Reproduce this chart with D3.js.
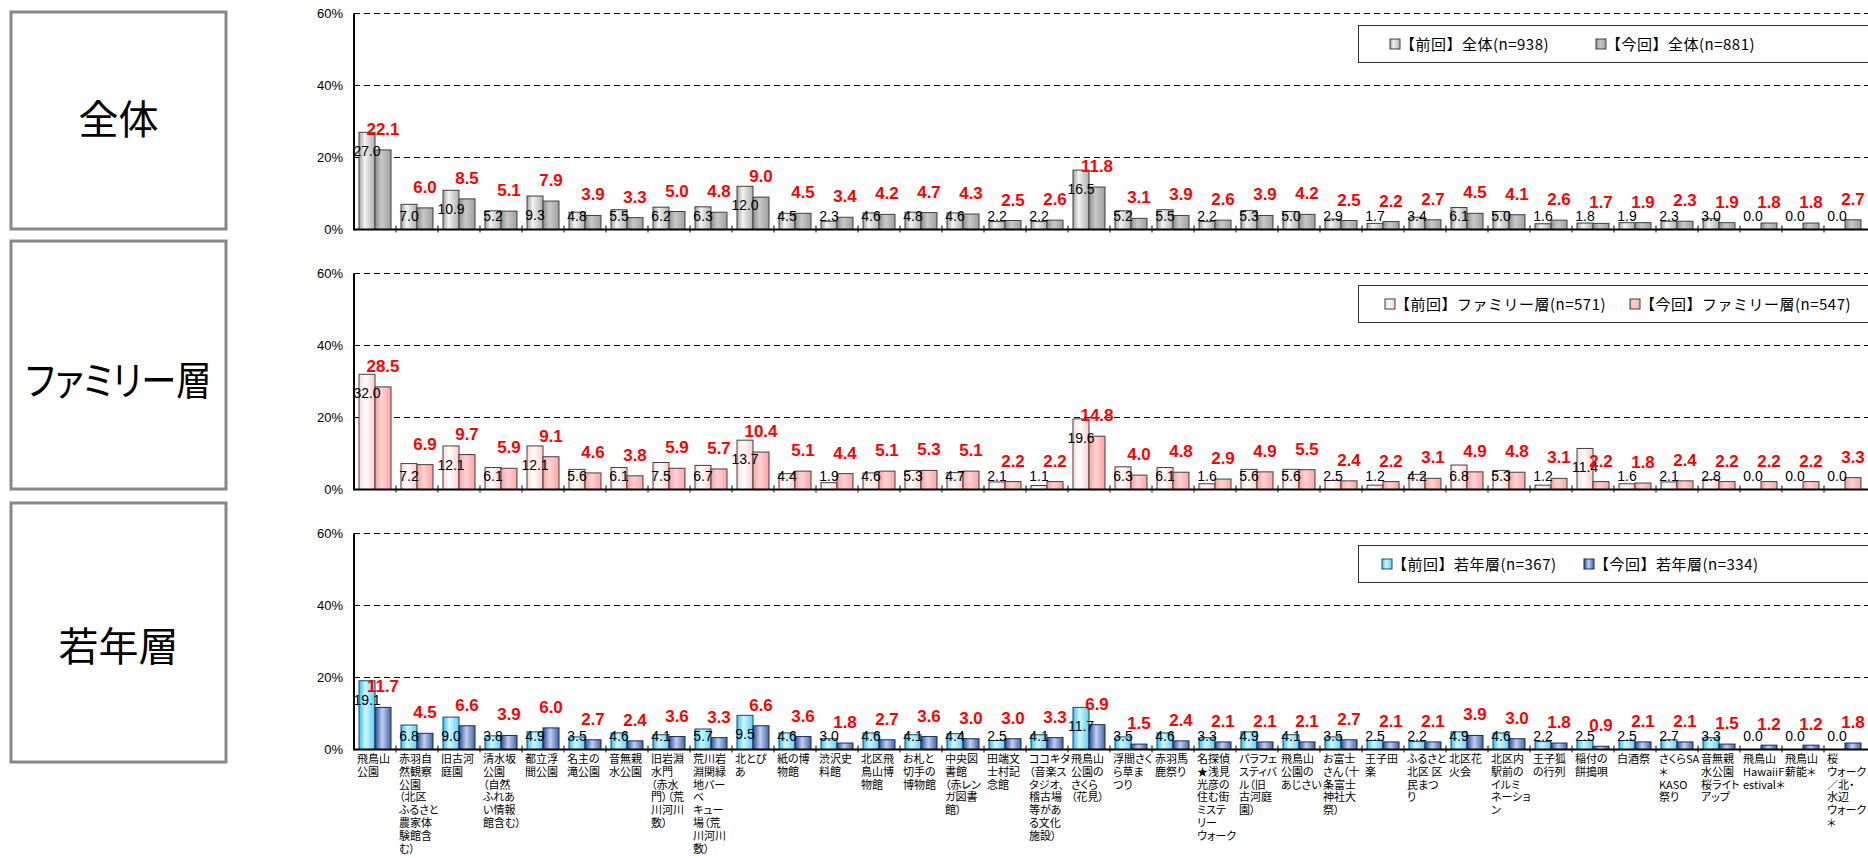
<!DOCTYPE html>
<html><head><meta charset="utf-8">
<script src="https://cdn.jsdelivr.net/npm/d3@7/dist/d3.min.js"></script>
<style>
body{margin:0;background:#fff;}
svg{display:block;}
text{font-family:"Liberation Sans",Arial,sans-serif;}
.jp{font-family:"Noto Sans CJK JP",sans-serif;font-feature-settings:"palt";}
.jpf{font-family:"Noto Sans CJK JP",sans-serif;}
</style></head><body>
<svg id="c" width="1868" height="858"></svg>
<script>
const categories = [
"飛鳥山|公園","赤羽自|然観察|公園|（北区|ふるさと|農家体|験館含|む）","旧古河|庭園",
"清水坂|公園|（自然|ふれあ|い情報|館含む）","都立浮|間公園","名主の|滝公園","音無親|水公園",
"旧岩淵|水門|（赤水|門）（荒|川河川|敷）","荒川岩|淵関緑|地バー|ベ|キュー|場（荒|川河川|敷）",
"北とぴ|あ","紙の博|物館","渋沢史|料館","北区飛|鳥山博|物館","お札と|切手の|博物館",
"中央図|書館|（赤レン|ガ図書|館）","田端文|士村記|念館","ココキタ|（音楽ス|タジオ、|稽古場|等があ|る文化|施設）",
"飛鳥山|公園の|さくら|（花見）","浮間さく|ら草ま|つり","赤羽馬|鹿祭り",
"名探偵|★浅見|光彦の|住む街|ミステ|リー|ウォーク","パラフェ|スティバ|ル（旧|古河庭|園）",
"飛鳥山|公園の|あじさい","お富士|さん（十|条富士|神社大|祭）","王子田|楽","ふるさと|北区 区|民まつ|り",
"北区花|火会","北区内|駅前の|イルミ|ネーショ|ン","王子狐|の行列","稲付の|餅搗唄","白酒祭",
"さくらSA|＊|KASO|祭り","音無親|水公園|桜ライト|アップ","飛鳥山|HawaiiF|estival＊","飛鳥山|薪能＊",
"桜|ウォーク|／北・|水辺|ウォーク|＊"
];
const panelNames = ["全体","ファミリー層","若年層"];
const legendAll = ["【前回】全体(n=938)","【今回】全体(n=881)"];
const legendFamily = ["【前回】ファミリー層(n=571)","【今回】ファミリー層(n=547)"];
const legendYoung = ["【前回】若年層(n=367)","【今回】若年層(n=334)"];
const prevAll = [27.0,7.0,10.9,5.2,9.3,4.8,5.5,6.2,6.3,12.0,4.5,2.3,4.6,4.8,4.6,2.2,2.2,16.5,5.2,5.5,2.2,5.3,5.0,2.9,1.7,3.4,6.1,5.0,1.6,1.8,1.9,2.3,3.0,0.0,0.0,0.0];
const currAll = [22.1,6.0,8.5,5.1,7.9,3.9,3.3,5.0,4.8,9.0,4.5,3.4,4.2,4.7,4.3,2.5,2.6,11.8,3.1,3.9,2.6,3.9,4.2,2.5,2.2,2.7,4.5,4.1,2.6,1.7,1.9,2.3,1.9,1.8,1.8,2.7];
const prevFamily = [32.0,7.2,12.1,6.1,12.1,5.6,6.1,7.5,6.7,13.7,4.4,1.9,4.6,5.3,4.7,2.1,1.1,19.6,6.3,6.1,1.6,5.6,5.6,2.5,1.2,4.2,6.8,5.3,1.2,11.4,1.6,2.1,2.8,0.0,0.0,0.0];
const currFamily = [28.5,6.9,9.7,5.9,9.1,4.6,3.8,5.9,5.7,10.4,5.1,4.4,5.1,5.3,5.1,2.2,2.2,14.8,4.0,4.8,2.9,4.9,5.5,2.4,2.2,3.1,4.9,4.8,3.1,2.2,1.8,2.4,2.2,2.2,2.2,3.3];
const prevYoung = [19.1,6.8,9.0,3.8,4.9,3.5,4.6,4.1,5.7,9.5,4.6,3.0,4.6,4.1,4.4,2.5,4.1,11.7,3.5,4.6,3.3,4.9,4.1,3.5,2.5,2.2,4.9,4.6,2.2,2.5,2.5,2.7,3.3,0.0,0.0,0.0];
const currYoung = [11.7,4.5,6.6,3.9,6.0,2.7,2.4,3.6,3.3,6.6,3.6,1.8,2.7,3.6,3.0,3.0,3.3,6.9,1.5,2.4,2.1,2.1,2.1,2.7,2.1,2.1,3.9,3.0,1.8,0.9,2.1,2.1,1.5,1.2,1.2,1.8];
const yTicks = [0,20,40,60];
const yTickLabels = ["0%","20%","40%","60%"];

const svg = d3.select("#c");
const defs = svg.append("defs");
function grad(id, stops){
  const g = defs.append("linearGradient").attr("id",id).attr("x1","0").attr("x2","1").attr("y1","0").attr("y2","0");
  stops.forEach(([o,c])=>g.append("stop").attr("offset",o).attr("stop-color",c));
}
grad("gAllP",[[0,"#a0a0a0"],[0.35,"#f2f2f2"],[1,"#b0b0b0"]]);
grad("gAllC",[[0,"#909090"],[0.4,"#c8c8c8"],[1,"#a0a0a0"]]);
grad("gFamP",[[0,"#ffd8d8"],[0.4,"#ffffff"],[1,"#ffcccc"]]);
grad("gFamC",[[0,"#ff9c9c"],[0.4,"#ffd4d4"],[1,"#ffa4a4"]]);
grad("gYouP",[[0,"#30c0f0"],[0.4,"#d0f6ff"],[1,"#60d0f4"]]);
grad("gYouC",[[0,"#284894"],[0.45,"#c0d0f0"],[1,"#4464a8"]]);

const panels = [
  {name:panelNames[0], prev:prevAll, curr:currAll, legend:legendAll, fill:["url(#gAllP)","url(#gAllC)"], stroke:["#404040","#404040"],
   box:[12,217], tc:120, sw:[1390,1596]},
  {name:panelNames[1], prev:prevFamily, curr:currFamily, legend:legendFamily, fill:["url(#gFamP)","url(#gFamC)"], stroke:["#404040","#404040"],
   box:[241,248], tc:381, sw:[1385,1630]},
  {name:panelNames[2], prev:prevYoung, curr:currYoung, legend:legendYoung, fill:["url(#gYouP)","url(#gYouC)"], stroke:["#1c4a5c","#1c2c5c"],
   box:[503,259], tc:647, sw:[1382,1584]}
];

const X0 = 354, X1 = 1866, PH = 216, GAP = 260, B0 = 229.5;
const x = d3.scaleBand().domain(d3.range(categories.length)).range([X0, X1]);
const xs = d3.scaleBand().domain([0,1]).range([5, x.bandwidth()-5]);

panels.forEach((p, i) => {
  const bottom = B0 + i*GAP;
  const y = d3.scaleLinear().domain([0,60]).range([bottom, bottom-PH]);
  const g = svg.append("g");

  // title box
  g.append("rect").attr("x",11).attr("y",p.box[0]).attr("width",215).attr("height",p.box[1])
    .attr("fill","none").attr("stroke","#888").attr("stroke-width",3);
  const tt = g.append("text").attr("class","jp").attr("x",118.5).attr("y",p.tc+14)
    .attr("text-anchor","middle").attr("font-size",40).attr("fill","#000").text(p.name);
  if (tt.node().getComputedTextLength() > 190) {
    tt.attr("textLength",186).attr("lengthAdjust","spacingAndGlyphs");
  }

  // grid
  g.selectAll(".grid").data(yTicks.filter(d=>d>0)).join("line")
    .attr("x1",X0).attr("x2",1868).attr("y1",d=>y(d)).attr("y2",d=>y(d))
    .attr("stroke","#000").attr("stroke-width",1).attr("stroke-dasharray","6,4");
  g.selectAll(".tl").data(yTicks).join("text")
    .attr("x",343).attr("y",d=>y(d)+4.5).attr("text-anchor","end").attr("font-size",13)
    .text((d,k)=>yTickLabels[k]);

  // bars
  [p.prev, p.curr].forEach((vals, s) => {
    g.selectAll(null).data(vals.map((v,k)=>({v,k})).filter(d=>d.v>0)).join("rect")
      .attr("x",d=>x(d.k)+xs(s)).attr("width",xs.bandwidth())
      .attr("y",d=>y(d.v)).attr("height",d=>bottom-y(d.v))
      .attr("fill",p.fill[s]).attr("stroke",p.stroke[s]).attr("stroke-width",1);
  });

  // axes
  g.append("line").attr("x1",X0).attr("x2",1868).attr("y1",bottom).attr("y2",bottom).attr("stroke","#000").attr("stroke-width",2);
  g.append("line").attr("x1",X0).attr("x2",X0).attr("y1",y(60)).attr("y2",bottom+1).attr("stroke","#000").attr("stroke-width",2);
  g.selectAll(".tk").data(d3.range(1,categories.length)).join("line")
    .attr("x1",k=>x(k)).attr("x2",k=>x(k)).attr("y1",bottom-4).attr("y2",bottom+3)
    .attr("stroke","#000").attr("stroke-width",1);

  // value labels
  g.selectAll(null).data(p.prev).join("text")
    .attr("x",(v,k)=>x(k)+xs(0)+xs.bandwidth()/2)
    .attr("y",v=>Math.min(y(v)+19, bottom-14)+5)
    .attr("text-anchor","middle").attr("font-size",14).attr("fill","#000")
    .text(v=>v.toFixed(1));
  g.selectAll(null).data(p.curr).join("text")
    .attr("x",(v,k)=>x(k)+xs(1)+xs.bandwidth()/2)
    .attr("y",v=>y(v)-15)
    .attr("text-anchor","middle").attr("font-size",17).attr("font-weight","bold").attr("fill","#ff0000")
    .text(v=>v.toFixed(1));

  // legend
  const lt = y(60)+12;
  g.append("rect").attr("x",1358.5).attr("y",lt).attr("width",520).attr("height",37)
    .attr("fill","#fff").attr("stroke","#333").attr("stroke-width",1);
  p.legend.forEach((txt, s) => {
    const lx = p.sw[s];
    g.append("rect").attr("x",lx).attr("y",lt+13.5).attr("width",10).attr("height",10)
      .attr("fill",p.fill[s]).attr("stroke",p.stroke[s]).attr("stroke-width",1);
    g.append("text").attr("class","jpf").attr("x",lx+10).attr("y",lt+24)
      .attr("font-size",15).attr("letter-spacing",0.5).text(txt);
  });
});

// category labels (bottom panel)
const lb = svg.append("g");
const bottomY = B0 + 2*GAP;
categories.forEach((c, k) => {
  const t = lb.append("text").attr("class","jp").attr("font-size",11).attr("fill","#000");
  c.split("|").forEach((line, j) => {
    t.append("tspan").attr("x", x(k)+3).attr("y", bottomY+13.5 + j*12.8).text(line);
  });
});
</script>
</body></html>
